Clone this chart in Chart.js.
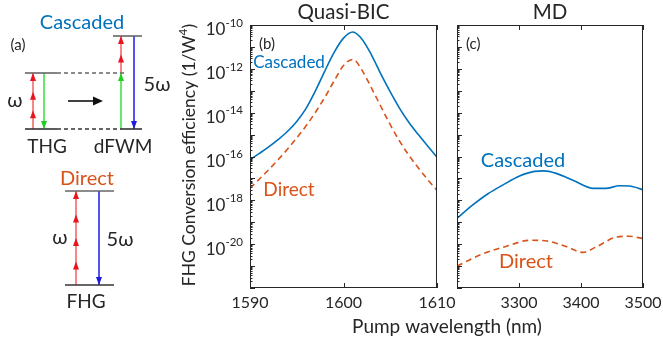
<!DOCTYPE html>
<html>
<head>
<meta charset="utf-8">
<script src="https://cdn.jsdelivr.net/npm/chart.js@4.4.1/dist/chart.umd.min.js"></script>
<style>
  html, body { margin: 0; padding: 0; background: #fff; }
  #wrap { position: relative; width: 663px; height: 344px; }
  #wrap canvas { position: absolute; left: 0; top: 0; }
</style>
</head>
<body>
<div id="wrap">
  <canvas id="diagram" width="663" height="344"></canvas>
  <canvas id="bicChart" width="663" height="344"></canvas>
  <canvas id="mdChart" width="663" height="344"></canvas>
</div>
<script>
// ---- dane: panel (b) Quasi-BIC ----
const bicWavelength = [1590, 1591, 1592, 1593, 1594, 1595, 1596, 1597, 1598, 1599, 1600, 1601, 1602, 1603, 1604, 1605, 1606, 1607, 1608, 1609, 1610];
const bicCascaded  = [7.08e-17, 1.38e-16, 2.75e-16, 5.89e-16, 1.38e-15, 3.98e-15, 1.58e-14, 1.0e-13, 7.94e-13, 5.62e-12, 2.51e-11, 4.79e-11, 2.19e-11, 4.27e-12, 5.75e-13, 8.91e-14, 1.58e-14, 3.55e-15, 1.0e-15, 3.02e-16, 9.33e-17];
const bicDirect    = [3.55e-18, 9.33e-18, 2.51e-17, 7.08e-17, 2.14e-16, 7.08e-16, 2.51e-15, 1.05e-14, 5.01e-14, 2.82e-13, 1.41e-12, 2.69e-12, 8.32e-13, 1.32e-13, 1.91e-14, 2.82e-15, 5.01e-16, 1.12e-16, 3.02e-17, 8.91e-18, 2.82e-18];
const bicXTicks = [1590, 1600, 1610];

// ---- dane: panel (c) MD ----
const mdWavelengthC = [3200, 3225, 3250, 3275, 3300, 3325, 3340, 3360, 3387, 3420, 3440, 3462, 3478, 3500];
const mdCascaded    = [1.5e-19, 6.0e-19, 2.0e-18, 5.2e-18, 1.26e-17, 2.1e-17, 2.2e-17, 1.7e-17, 8.3e-18, 3.5e-18, 3.5e-18, 4.6e-18, 4.5e-18, 3.0e-18];
const mdWavelengthD = [3200, 3237, 3280, 3318, 3345, 3377, 3403, 3425, 3457, 3478, 3500];
const mdDirect      = [1.0e-21, 3.2e-21, 8.1e-21, 1.5e-20, 1.4e-20, 7.6e-21, 4.2e-21, 7.6e-21, 2.1e-20, 2.3e-20, 1.8e-20];
const mdXTicks = [3300, 3400, 3500];

// wspolna os Y (log)
const yMin = 1e-22, yMax = 1e-10;
const yLabelExponents = [-20, -18, -16, -14, -12, -10];

// ---- schemat (a): poziomy energii [x1, x2, y, przerywana] ----
const levelLines = [
  [25, 57, 73, 0], [57, 125, 73, 1],
  [25, 57, 129, 0], [57, 120, 129, 1],
  [113, 142, 36, 0], [120, 142, 129, 0],
  [65, 114, 191, 0], [65, 114, 285, 0]
];
// przejscia [x, yOd, yDo, kolor, liczba grotow]
const transitions = [
  [33, 129, 73, 'red', 3],
  [44, 73, 129, 'green', 1],
  [121, 129, 73, 'green', 1],
  [121, 73, 36, 'red', 2],
  [134, 36, 129, 'blue', 1],
  [76, 285, 191, 'red', 4],
  [99, 191, 285, 'blue', 1]
];
const diagramLabels = [
  ['Cascaded', 82, 23, '#0072BD', 20],
  ['(a)', 18, 45, '#262626', 15],
  ['ω', 15, 101, '#262626', 20],
  ['5ω', 157, 85, '#262626', 20],
  ['THG', 47, 147, '#262626', 19],
  ['dFWM', 123, 147, '#262626', 19],
  ['Direct', 87, 179, '#D95319', 20],
  ['ω', 60, 238, '#262626', 20],
  ['5ω', 120, 240, '#262626', 20],
  ['FHG', 86, 302, '#262626', 19]
];

const FONT = 'Lato, "Open Sans", sans-serif';
const INK = '#262626';
const BLUE = '#0072BD';
const ORANGE = '#D95319';
const arrowColors = {
  red: { line: '#f26a6a', head: '#e8141e' },
  green: { line: '#44e044', head: '#22cc22' },
  blue: { line: '#2a2af0', head: '#1a1ae0' },
  black: { line: '#111', head: '#111' }
};

function pts(xs, ys) { return xs.map((x, i) => ({ x: x, y: ys[i] })); }

function arrowHead(ctx, x, y, dx, dy, col, len, half) {
  // (dx,dy) kierunek jednostkowy
  ctx.fillStyle = col;
  ctx.beginPath();
  ctx.moveTo(x, y);
  ctx.lineTo(x - dx * len - dy * half, y - dy * len + dx * half);
  ctx.lineTo(x - dx * len + dy * half, y - dy * len - dx * half);
  ctx.closePath();
  ctx.fill();
}

// ---- panel (a) jako wykres bez osi ----
const diagramSets = [];
levelLines.forEach(l => {
  diagramSets.push({
    data: [{ x: l[0], y: l[2] }, { x: l[1], y: l[2] }],
    borderColor: l[2] > 100 && l[2] !== 191 ? '#333' : '#666',
    borderWidth: 1.6, borderDash: l[3] ? [4, 3] : [], pointRadius: 0, showLine: true
  });
});
transitions.forEach(t => {
  diagramSets.push({
    data: [{ x: t[0], y: t[1] }, { x: t[0], y: t[2] }],
    borderColor: arrowColors[t[3]].line, borderWidth: 1.6, pointRadius: 0, showLine: true
  });
});
const pumpArrow = [68, 103, 101];
diagramSets.push({
  data: [{ x: pumpArrow[0], y: pumpArrow[2] }, { x: pumpArrow[1] - 6, y: pumpArrow[2] }],
  borderColor: '#111', borderWidth: 1.6, pointRadius: 0, showLine: true
});

new Chart(document.getElementById('diagram').getContext('2d'), {
  type: 'scatter',
  data: { datasets: diagramSets },
  options: {
    responsive: false, animation: false,
    layout: { padding: 0 },
    plugins: { legend: { display: false }, tooltip: { enabled: false } },
    scales: {
      x: { type: 'linear', min: 0, max: 663, display: false },
      y: { type: 'linear', min: 0, max: 344, reverse: true, display: false }
    }
  },
  plugins: [{
    id: 'diagramDecor',
    afterDatasetsDraw(chart) {
      const { ctx, scales: { x, y } } = chart;
      ctx.save();
      transitions.forEach(t => {
        const px = x.getPixelForValue(t[0]);
        const y0 = y.getPixelForValue(t[1]), y1 = y.getPixelForValue(t[2]);
        const dir = y1 > y0 ? 1 : -1;
        const L = Math.abs(y1 - y0);
        for (let k = 0; k < t[4]; k++) {
          const tip = y1 - dir * k * L / t[4];
          arrowHead(ctx, px, tip, 0, dir, arrowColors[t[3]].head, 8, 3);
        }
      });
      arrowHead(ctx, x.getPixelForValue(pumpArrow[1]), y.getPixelForValue(pumpArrow[2]), 1, 0, '#111', 10, 4.5);
      ctx.textAlign = 'center';
      ctx.textBaseline = 'middle';
      diagramLabels.forEach(d => {
        ctx.fillStyle = d[3];
        ctx.font = d[4] + 'px ' + FONT;
        ctx.fillText(d[0], x.getPixelForValue(d[1]), y.getPixelForValue(d[2]));
      });
      ctx.restore();
    }
  }]
});

// ---- wspolne ozdoby osi w stylu MATLAB ----
function axesDecor(opts) {
  return {
    id: 'axesDecor',
    afterDatasetsDraw(chart) {
      const { ctx, chartArea: a, scales: { x, y } } = chart;
      ctx.save();
      ctx.strokeStyle = INK;
      ctx.lineWidth = 1;
      ctx.strokeRect(a.left + 0.5, a.top + 0.5, a.right - a.left - 1, a.bottom - a.top - 1);
      // y: podzialki dekad i pomocnicze
      ctx.beginPath();
      for (let e = -22; e <= -10; e++) {
        const py = Math.round(y.getPixelForValue(Math.pow(10, e))) + 0.5;
        ctx.moveTo(a.left, py); ctx.lineTo(a.left + 5, py);
        if (e < -10) {
          for (let m = 2; m <= 9; m++) {
            const pm = Math.round(y.getPixelForValue(m * Math.pow(10, e))) + 0.5;
            ctx.moveTo(a.left, pm); ctx.lineTo(a.left + 2.5, pm);
          }
        }
      }
      // x: podzialki dol i gora
      opts.xTicks.forEach(v => {
        const px = Math.round(x.getPixelForValue(v)) + 0.5;
        ctx.moveTo(px, a.bottom); ctx.lineTo(px, a.bottom - 5);
        ctx.moveTo(px, a.top); ctx.lineTo(px, a.top + 5);
      });
      ctx.stroke();

      ctx.fillStyle = INK;
      ctx.textBaseline = 'middle';
      ctx.textAlign = 'center';
      ctx.font = '16px ' + FONT;
      opts.xTicks.forEach(v => ctx.fillText(String(v), x.getPixelForValue(v), a.bottom + 15));

      if (opts.yLabels) {
        ctx.textAlign = 'right';
        yLabelExponents.forEach(e => {
          const py = y.getPixelForValue(Math.pow(10, e));
          ctx.font = '11.5px ' + FONT;
          const sup = String(e);
          const sw = ctx.measureText(sup).width;
          ctx.fillText(sup, a.left - 7, py - 2);
          ctx.font = '17px ' + FONT;
          ctx.fillText('10', a.left - 7 - sw, py + 5);
        });
        // tytul osi Y z indeksem gornym
        ctx.save();
        ctx.translate(189, 155);
        ctx.rotate(-Math.PI / 2);
        const main = 'FHG Conversion efficiency (1/W', tail = ')';
        ctx.font = '17.5px ' + FONT;
        const w1 = ctx.measureText(main).width, w3 = ctx.measureText(tail).width;
        ctx.font = '12px ' + FONT;
        const w2 = ctx.measureText('4').width;
        let sx = -(w1 + w2 + w3) / 2;
        ctx.textAlign = 'left';
        ctx.font = '17.5px ' + FONT;
        ctx.fillText(main, sx, 0);
        ctx.font = '12px ' + FONT;
        ctx.fillText('4', sx + w1, -6);
        ctx.font = '17.5px ' + FONT;
        ctx.fillText(tail, sx + w1 + w2, 0);
        ctx.restore();
        // wspolny tytul osi X
        ctx.textAlign = 'center';
        ctx.font = '19px ' + FONT;
        ctx.fillText('Pump wavelength (nm)', 447, 327);
      }

      ctx.textAlign = 'center';
      ctx.font = '20.5px ' + FONT;
      ctx.fillText(opts.title, (a.left + a.right) / 2, 12);

      ctx.textAlign = 'left';
      ctx.font = '15px ' + FONT;
      ctx.fillText(opts.letter, a.left + 9, 44);

      opts.notes.forEach(n => {
        ctx.fillStyle = n[3];
        ctx.font = n[4] + 'px ' + FONT;
        ctx.textAlign = 'center';
        ctx.fillText(n[0], n[1], n[2]);
      });
      ctx.restore();
    }
  };
}

function lineSets(cascaded, direct) {
  return [
    { data: cascaded, borderColor: BLUE, borderWidth: 1.6, pointRadius: 0, cubicInterpolationMode: 'monotone' },
    { data: direct, borderColor: ORANGE, borderWidth: 1.6, borderDash: [6, 4], pointRadius: 0, cubicInterpolationMode: 'monotone' }
  ];
}

function panelOptions(xmin, xmax, padding) {
  return {
    responsive: false, animation: false,
    layout: { padding: padding },
    plugins: { legend: { display: false }, tooltip: { enabled: false } },
    scales: {
      x: { type: 'linear', min: xmin, max: xmax, display: false },
      y: { type: 'logarithmic', min: yMin, max: yMax, display: false }
    }
  };
}

new Chart(document.getElementById('bicChart').getContext('2d'), {
  type: 'line',
  data: { datasets: lineSets(pts(bicWavelength, bicCascaded), pts(bicWavelength, bicDirect)) },
  options: panelOptions(1590, 1610, { left: 250, right: 226, top: 25, bottom: 56 }),
  plugins: [axesDecor({
    xTicks: bicXTicks, yLabels: true, title: 'Quasi-BIC', letter: '(b)',
    notes: [['Cascaded', 289, 63, BLUE, 17], ['Direct', 289, 190, ORANGE, 19]]
  })]
});

new Chart(document.getElementById('mdChart').getContext('2d'), {
  type: 'line',
  data: { datasets: lineSets(pts(mdWavelengthC, mdCascaded), pts(mdWavelengthD, mdDirect)) },
  options: panelOptions(3200, 3500, { left: 457, right: 20, top: 25, bottom: 56 }),
  plugins: [axesDecor({
    xTicks: mdXTicks, yLabels: false, title: 'MD', letter: '(c)',
    notes: [['Cascaded', 523, 161, BLUE, 20], ['Direct', 526, 262, ORANGE, 20]]
  })]
});
</script>
</body>
</html>
